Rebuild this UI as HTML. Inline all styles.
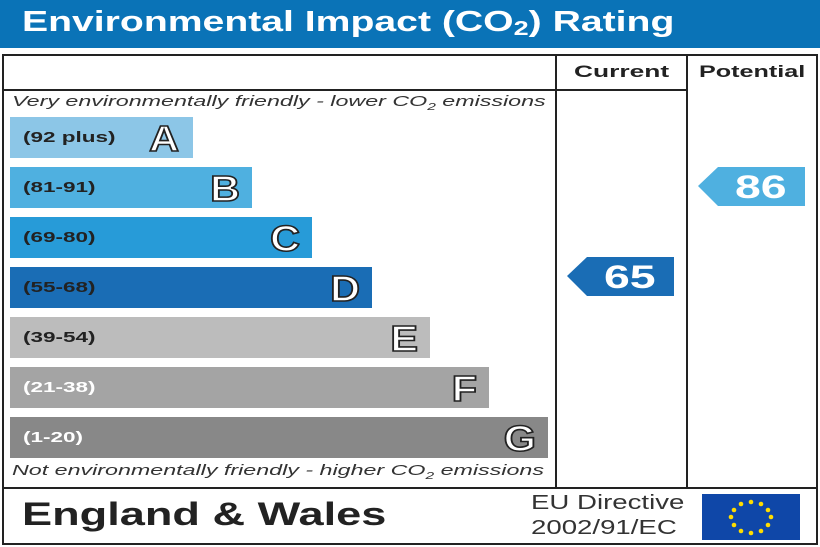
<!DOCTYPE html><html><head><style>
body{margin:0;width:820px;height:547px;background:#fff;position:relative;overflow:hidden;font-family:"Liberation Sans",sans-serif}
.a{position:absolute;transform-origin:0 0;white-space:nowrap}
.bar{position:absolute;left:10px;height:41px}
.bar .r{position:absolute;left:13px;top:12px;font-size:15px;font-weight:bold;color:#222;transform:scaleX(1.5);transform-origin:0 0;white-space:nowrap}
.bar .l{position:absolute;right:12px;top:1px;font-size:36px;font-weight:bold;color:#fff;-webkit-text-stroke:1.6px #222;transform:scaleX(1.15);transform-origin:100% 0}
.it{font-style:italic;font-size:15px;color:#333;left:12px;transform:scaleX(1.55)}
</style></head><body>
<div class="a" style="left:0;top:0;width:820px;height:48px;background:#0a73b7"></div>
<div class="a" style="left:22px;top:6px;font-size:29px;font-weight:bold;color:#fff;transform:scaleX(1.35)">Environmental Impact (CO<sub style="font-size:20px;vertical-align:-4px">2</sub>) Rating</div>
<div class="a" style="left:2px;top:54px;width:812px;height:487px;border:2px solid #222"></div>
<div class="a" style="left:2px;top:89px;width:685px;height:2px;background:#222"></div>
<div class="a" style="left:2px;top:487px;width:816px;height:2px;background:#222"></div>
<div class="a" style="left:555px;top:54px;width:2px;height:435px;background:#222"></div>
<div class="a" style="left:686px;top:54px;width:2px;height:435px;background:#222"></div>
<div class="a" style="left:574px;top:62px;font-size:17px;font-weight:bold;color:#222;transform:scaleX(1.55)">Current</div>
<div class="a" style="left:699px;top:62px;font-size:17px;font-weight:bold;color:#222;transform:scaleX(1.48)">Potential</div>
<div class="a it" style="top:93px">Very environmentally friendly - lower CO<sub style="font-size:10px">2</sub> emissions</div>
<div class="a it" style="top:462px">Not environmentally friendly - higher CO<sub style="font-size:10px">2</sub> emissions</div>
<div class="bar" style="top:117px;width:183px;background:#8cc6e7"><span class="r">(92 plus)</span><span class="l" style="right:14px">A</span></div>
<div class="bar" style="top:167px;width:242px;background:#4fb0e0"><span class="r">(81-91)</span><span class="l">B</span></div>
<div class="bar" style="top:217px;width:302px;background:#279bd8"><span class="r">(69-80)</span><span class="l">C</span></div>
<div class="bar" style="top:267px;width:362px;background:#1a6db5"><span class="r">(55-68)</span><span class="l">D</span></div>
<div class="bar" style="top:317px;width:420px;background:#bcbcbc"><span class="r">(39-54)</span><span class="l">E</span></div>
<div class="bar" style="top:367px;width:479px;background:#a4a4a4"><span class="r" style="color:#fff">(21-38)</span><span class="l">F</span></div>
<div class="bar" style="top:417px;width:538px;background:#888"><span class="r" style="color:#fff">(1-20)</span><span class="l">G</span></div>
<svg class="a" style="left:0;top:0" width="820" height="547">
<polygon points="567,276 587,257 674,257 674,296 587,296" fill="#1a6db5"/>
<polygon points="698,186 718,167 805,167 805,206 718,206" fill="#4fb0e0"/>
<rect x="702" y="494" width="98" height="46" fill="#0f47a8"/>
<g fill="#ffdd00">
<circle cx="751" cy="502" r="2.3"/><circle cx="761" cy="504" r="2.3"/><circle cx="768" cy="510" r="2.3"/><circle cx="771" cy="517" r="2.3"/><circle cx="768" cy="525" r="2.3"/><circle cx="761" cy="531" r="2.3"/><circle cx="751" cy="533" r="2.3"/><circle cx="741" cy="531" r="2.3"/><circle cx="734" cy="525" r="2.3"/><circle cx="731" cy="517" r="2.3"/><circle cx="734" cy="510" r="2.3"/><circle cx="741" cy="504" r="2.3"/>
</g></svg>
<div class="a" style="left:604px;top:259px;font-size:32px;font-weight:bold;color:#fff;transform:scaleX(1.45)">65</div>
<div class="a" style="left:735px;top:169px;font-size:32px;font-weight:bold;color:#fff;transform:scaleX(1.45)">86</div>
<div class="a" style="left:22px;top:496px;font-size:32px;font-weight:bold;color:#222;transform:scaleX(1.41)">England &amp; Wales</div>
<div class="a" style="left:531px;top:491px;font-size:20px;color:#333;line-height:25px;transform:scaleX(1.38)">EU Directive<br>2002/91/EC</div>
</body></html>
